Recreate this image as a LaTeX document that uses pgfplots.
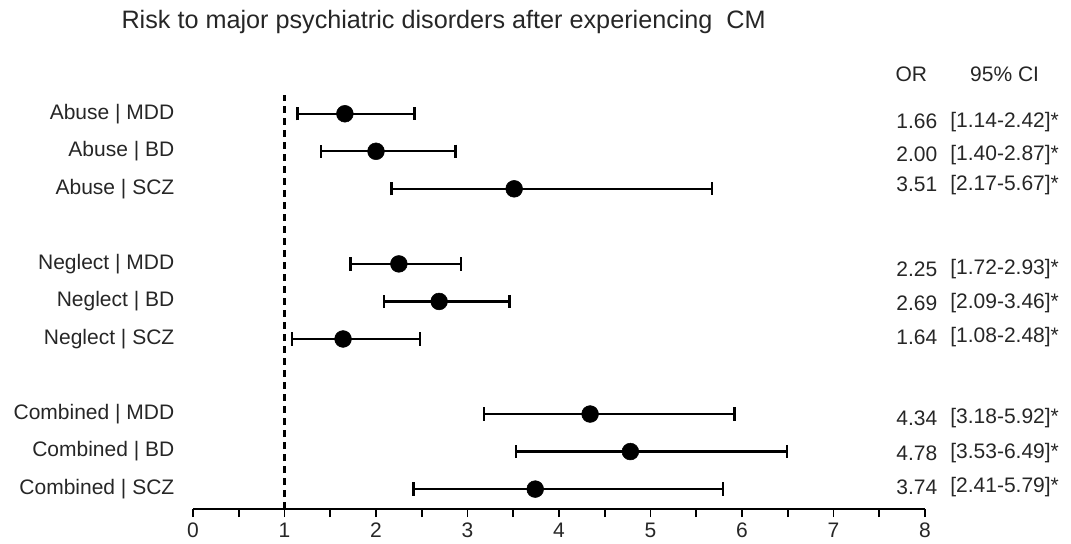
\documentclass[border=0pt]{standalone}
\usepackage{fontspec}
\setmainfont{Liberation Sans}
\usepackage{pgfplots}
\usepackage{pgfplotstable}
\pgfplotsset{compat=1.18}
\definecolor{txt}{HTML}{262626}

% row, OR, lower CI, upper CI
\pgfplotstableread{
row or  lo   hi
11  1.66 1.14 2.42
10  2.00 1.40 2.87
9   3.51 2.17 5.67
7   2.25 1.72 2.93
6   2.69 2.09 3.46
5   1.64 1.08 2.48
3   4.34 3.18 5.92
2   4.78 3.53 6.49
1   3.74 2.41 5.79
}\ortable

\begin{document}
\begin{tikzpicture}
\useasboundingbox (-144.75pt,-25.5pt) rectangle (658.5pt,381.75pt);
\begin{axis}[
    at={(0,0)}, anchor=south west,
    scale only axis,
    width=549pt, height=310.5pt,
    xmin=0, xmax=8, ymin=0.47, ymax=11.5,
    clip=false,
    axis x line*=bottom, axis y line*=left,
    y axis line style={draw=none},
    x axis line style={line width=1.4pt, -},
    xtick={0,...,8}, minor x tick num=1,
    tick align=outside,
    major tick length=6pt, minor tick length=6pt,
    xtick style={line width=1.3pt, black},
    ytick={11,10,9,7,6,5,3,2,1},
    yticklabels={Abuse | MDD, Abuse | BD, Abuse | SCZ,
                 Neglect | MDD, Neglect | BD, Neglect | SCZ,
                 Combined | MDD, Combined | BD, Combined | SCZ},
    ytick style={draw=none},
    yticklabel style={anchor=east, xshift=-4.5pt},
    xticklabel style={yshift=-1pt},
    ticklabel style={font=\fontsize{15.75}{18}\selectfont, text=txt},
    /pgf/number format/assume math mode=true,
]
\addplot[black, line width=1.8pt, dash pattern=on 5.5pt off 3.5pt]
    coordinates {(1,0.47) (1,11.5)};
\addplot[only marks, mark=*, mark size=6.3pt, black,
    error bars/.cd, x dir=both, x explicit,
    error bar style={line width=1.8pt, black},
    error mark options={rotate=90, mark size=5pt, line width=1.8pt, black}]
    table[x=or, y=row,
          x error plus expr=\thisrow{hi}-\thisrow{or},
          x error minus expr=\thisrow{or}-\thisrow{lo}] {\ortable};

\begin{scope}[every node/.style={font=\fontsize{15.75}{18}\selectfont, text=txt}]
\node at (axis cs:7.85,12.04) {OR};
\node at (axis cs:8.87,12.04) {95\% CI};
\node at (axis cs:7.91,10.79) {1.66}; \node at (axis cs:8.87,10.79) {[1.14-2.42]*};
\node at (axis cs:7.91,9.91)  {2.00}; \node at (axis cs:8.87,9.91)  {[1.40-2.87]*};
\node at (axis cs:7.91,9.11)  {3.51}; \node at (axis cs:8.87,9.11)  {[2.17-5.67]*};
\node at (axis cs:7.91,6.87)  {2.25}; \node at (axis cs:8.87,6.87)  {[1.72-2.93]*};
\node at (axis cs:7.91,5.96)  {2.69}; \node at (axis cs:8.87,5.96)  {[2.09-3.46]*};
\node at (axis cs:7.91,5.05)  {1.64}; \node at (axis cs:8.87,5.05)  {[1.08-2.48]*};
\node at (axis cs:7.91,2.89)  {4.34}; \node at (axis cs:8.87,2.89)  {[3.18-5.92]*};
\node at (axis cs:7.91,1.96)  {4.78}; \node at (axis cs:8.87,1.96)  {[3.53-6.49]*};
\node at (axis cs:7.91,1.05)  {3.74}; \node at (axis cs:8.87,1.05)  {[2.41-5.79]*};
\end{scope}
\end{axis}
\node[font=\fontsize{18.9}{22}\selectfont, text=txt] at (188pt,365.25pt)
    {Risk to major psychiatric disorders after experiencing\ \ CM};
\end{tikzpicture}
\end{document}
